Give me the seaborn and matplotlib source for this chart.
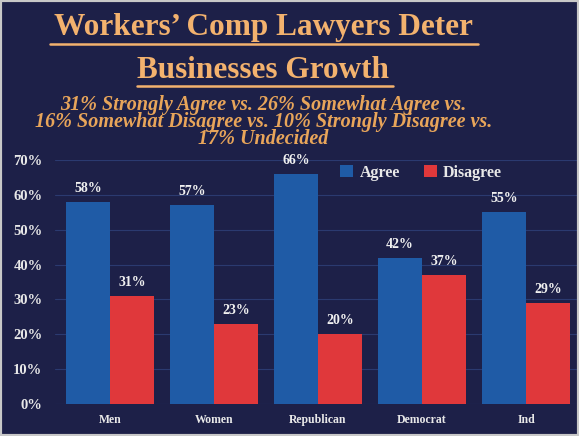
import matplotlib
matplotlib.use("Agg")
import matplotlib.pyplot as plt
import seaborn as sns
import pandas as pd
from matplotlib.lines import Line2D

categories = ["Men", "Women", "Republican", "Democrat", "Ind"]
agree = [58, 57, 66, 42, 55]
disagree = [31, 23, 20, 37, 29]
series_names = ["Agree", "Disagree"]
yticks = [0, 10, 20, 30, 40, 50, 60, 70]

title_lines = ["Workers\u2019 Comp Lawyers Deter", "Businesses Growth"]
subtitle = ("31% Strongly Agree vs. 26% Somewhat Agree vs.\n"
            "16% Somewhat Disagree vs. 10% Strongly Disagree vs.\n"
            "17% Undecided")

df = pd.DataFrame({
    "cat": categories * 2,
    "series": [series_names[0]] * len(categories) + [series_names[1]] * len(categories),
    "val": agree + disagree,
})

bg = "#1d2048"
sns.set_theme(style="dark")
plt.rcParams["font.family"] = ["Liberation Serif", "DejaVu Serif"]

fig = plt.figure(figsize=(5.79, 4.36), dpi=100, facecolor=bg)
ax = fig.add_axes([55 / 579, 1 - 404 / 436, (578 - 55) / 579, (404 - 160) / 436])
ax.set_facecolor(bg)

palette = {"Agree": "#1f5ba6", "Disagree": "#e0383b"}
sns.barplot(data=df, x="cat", y="val", hue="series", palette=palette,
            width=0.846, ax=ax, saturation=1, edgecolor="none", legend=True)

ax.set_ylim(0, 70)
ax.set_xlim(-0.53, 4.5)
ax.set_yticks(yticks)
ax.set_yticklabels([f"{t}%" for t in yticks], color="#e8e8e8", fontsize=10.5, fontweight="bold")
ax.tick_params(axis="x", colors="#e8e8e8", labelsize=8.5, length=0, pad=7)
ax.tick_params(axis="y", length=0, pad=9)
for lbl in ax.get_xticklabels():
    lbl.set_fontweight("bold")
ax.set_xlabel("")
ax.set_ylabel("")
ax.grid(axis="y", color="#2b3a70", linewidth=0.8)
ax.grid(axis="x", visible=False)
ax.set_axisbelow(True)
for s in ax.spines.values():
    s.set_visible(False)

for cont in ax.containers:
    ax.bar_label(cont, labels=[f"{v:.0f}%" for v in cont.datavalues], padding=5,
                 color="#f0f0f0", fontsize=10, fontweight="bold")

leg = ax.legend(loc="upper center", bbox_to_anchor=(0.70, 1.04), ncol=2, frameon=False,
                handlelength=0.8, handleheight=0.8, columnspacing=1.5,
                handletextpad=0.4, fontsize=11.5)
for t in leg.get_texts():
    t.set_color("#e8e8e8")
    t.set_fontweight("bold")

title_color = "#f3b26e"
fig.text(0.455, 1 - 27 / 436, title_lines[0], ha="center", va="center",
         fontsize=22.5, fontweight="bold", color=title_color)
fig.text(0.455, 1 - 70 / 436, title_lines[1], ha="center", va="center",
         fontsize=22.5, fontweight="bold", color=title_color)
fig.add_artist(Line2D([50 / 579, 478 / 579], [1 - 44 / 436] * 2, color=title_color, lw=1.8,
                      transform=fig.transFigure))
fig.add_artist(Line2D([137 / 579, 393 / 579], [1 - 86 / 436] * 2, color=title_color, lw=1.8,
                      transform=fig.transFigure))
fig.text(0.455, 1 - 122 / 436, subtitle, ha="center", va="center", fontsize=14.5,
         fontweight="bold", fontstyle="italic", color="#e8a55a", linespacing=0.8)

# frame
fig.add_artist(plt.Rectangle((0, 0), 1, 1, transform=fig.transFigure, fill=False,
                             edgecolor="#c8c8c8", lw=3))

fig.savefig("out.png", dpi=100, facecolor=bg)
